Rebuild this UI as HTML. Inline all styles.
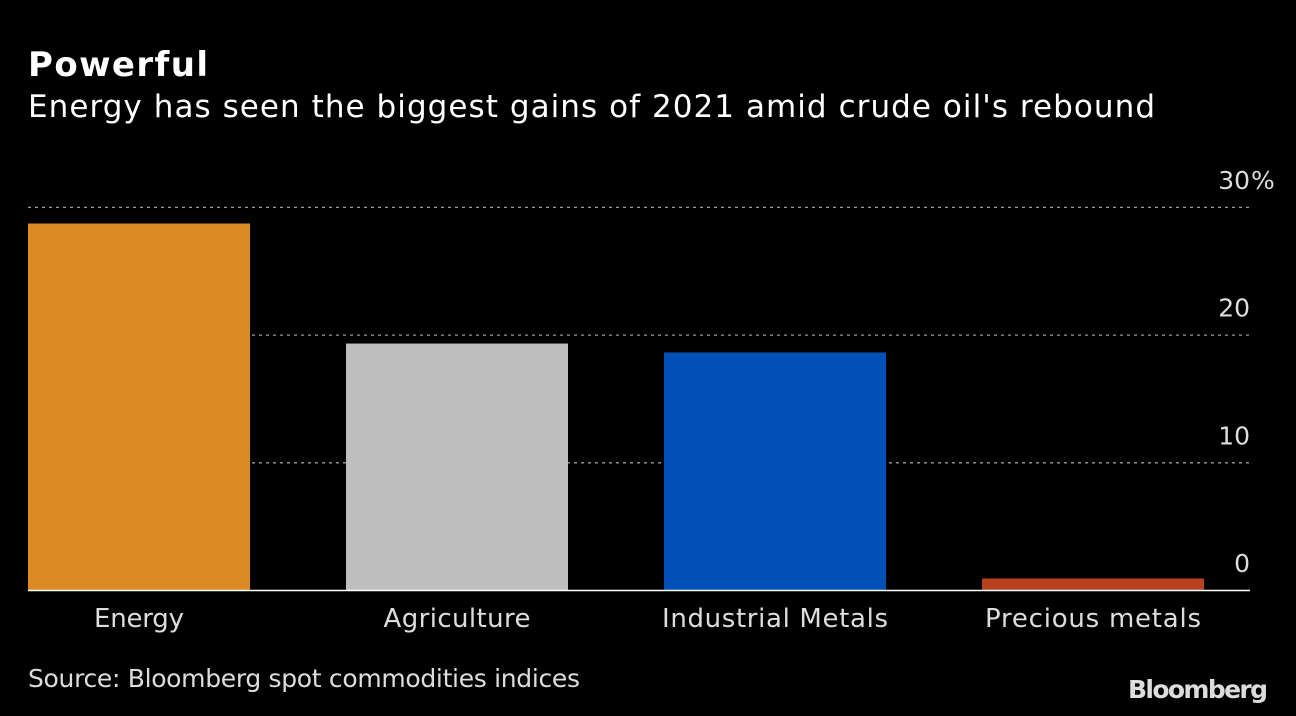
<!DOCTYPE html>
<html><head><meta charset="utf-8"><style>
html,body{margin:0;padding:0;background:#000;width:1296px;height:716px;overflow:hidden}
svg{display:block;font-family:"DejaVu Sans","Liberation Sans",sans-serif}
</style></head><body>
<svg id="chart" width="1296" height="716">
<text x="28" y="76" fill="#fff" font-size="34" font-weight="bold" textLength="180">Powerful</text>
<text x="28" y="117" fill="#fff" font-size="31" textLength="1127">Energy has seen the biggest gains of 2021 amid crude oil's rebound</text>
<g id="grid"></g>
<g id="bars"></g>
<g id="labels"></g>
<line x1="28" x2="1250" y1="590.5" y2="590.5" stroke="#fff" stroke-width="1.5"/>
<text x="28" y="687" fill="#ddd" font-size="25" textLength="552">Source: Bloomberg spot commodities indices</text>
<text x="1268" y="698" fill="#ddd" font-size="25" font-weight="bold" text-anchor="end" textLength="140">Bloomberg</text>
</svg>
<script>
const categories=["Energy","Agriculture","Industrial Metals","Precious metals"];
const values=[28.7,19.3,18.6,0.9];
const colors=["#dc8a24","#bebebe","#0050b8","#b8401e"];
const ticks=[0,10,20,30];
const tickLabels=["0","10","20","30"];
const labelWidths=[90,147,226,216];
const NS="http://www.w3.org/2000/svg";
const y0=590,pxPer=12.77;
function y(v){return y0-v*pxPer;}
function x(i){return 28+i*318;}
const bw=222;
function mk(t,a,p){const e=document.createElementNS(NS,t);for(const k in a)e.setAttribute(k,a[k]);p.appendChild(e);return e;}
const g=document.getElementById('grid');
ticks.forEach((t,i)=>{
 if(t>0){const l=mk('line',{x1:28,x2:1250,y1:y(t)+0.5,y2:y(t)+0.5,stroke:'#999','stroke-width':1.3,'stroke-dasharray':'3,4'},g);
 
 }
 const tx=mk('text',{x:1250,y:y(t)-18,fill:'#ddd','font-size':25,'text-anchor':'end'},g);
 tx.textContent=tickLabels[i];
 
 
 if(i===ticks.length-1){
  const pc=mk('text',{x:1251,y:y(t)-18,fill:'#ddd','font-size':25},g);
  pc.textContent='%';
  
  
 }
});
const b=document.getElementById('bars'),lb=document.getElementById('labels');
categories.forEach((c,i)=>{
 const r=mk('rect',{x:x(i),y:y(values[i]),width:bw,height:values[i]*pxPer,fill:colors[i]},b);
 
 
 const t=mk('text',{x:x(i)+bw/2-labelWidths[i]/2,y:627,fill:'#ddd','font-size':26,textLength:labelWidths[i]},lb);
 t.textContent=c;
 
 
});
</script>
</body></html>
